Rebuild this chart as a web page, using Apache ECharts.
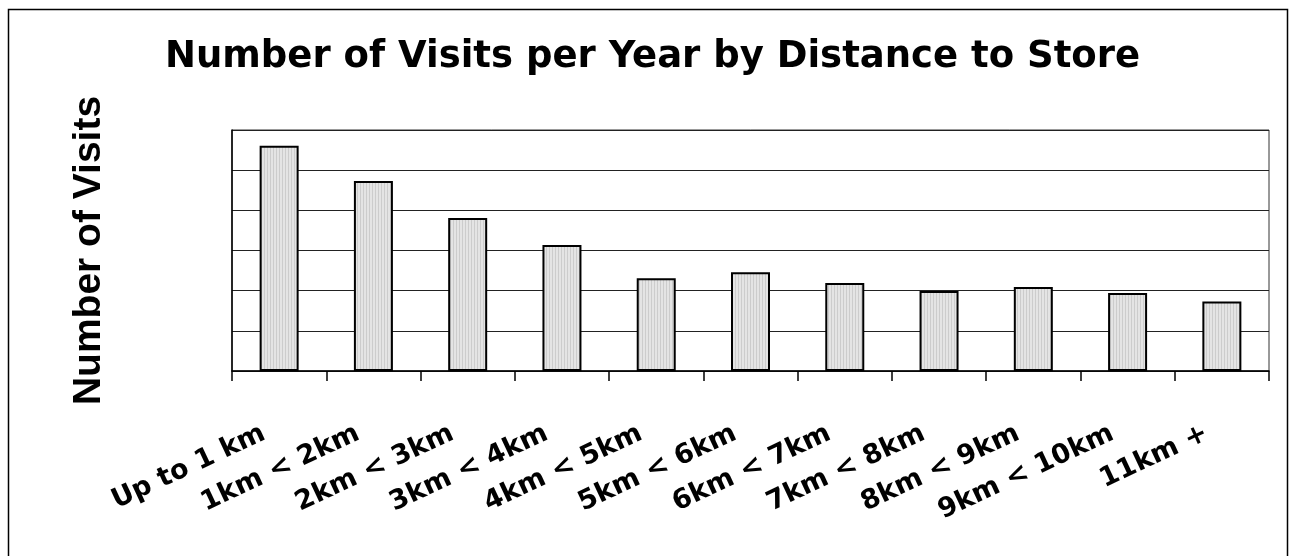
<!DOCTYPE html>
<html>
<head>
<meta charset="utf-8">
<style>
  html, body { margin: 0; padding: 0; background: #fff; }
  #chart { width: 1293px; height: 556px; }
</style>
<script src="https://cdn.jsdelivr.net/npm/echarts@6/dist/echarts.min.js"></script>
</head>
<body>
<div id="chart"></div>
<script>
const distanceBands = [
  "Up to 1 km", "1km < 2km", "2km < 3km", "3km < 4km", "4km < 5km",
  "5km < 6km", "6km < 7km", "7km < 8km", "8km < 9km", "9km < 10km", "11km +",
];
const visits = [5.61, 4.73, 3.81, 3.14, 2.31, 2.46, 2.19, 1.99, 2.09, 1.94, 1.73];

// thin vertical stripes like the old office fill
function stripeFill() {
  const c = document.createElement("canvas");
  c.width = 3;
  c.height = 8;
  const ctx = c.getContext("2d");
  ctx.fillStyle = "#e4e4e4";
  ctx.fillRect(0, 0, 3, 8);
  ctx.fillStyle = "#cccccc";
  ctx.fillRect(0, 0, 1, 8);
  return { image: c, repeat: "repeat" };
}

const chart = echarts.init(document.getElementById("chart"), null, { renderer: "canvas" });

chart.setOption({
  animation: false,
  backgroundColor: "#fff",
  title: {
    text: "Number of Visits per Year by Distance to Store",
    left: 160,
    top: 34,
    textStyle: { fontFamily: "DejaVu Sans", fontWeight: "bold", fontSize: 37, color: "#000" },
  },
  graphic: [
    {
      type: "rect",
      shape: { x: 8.5, y: 9.5, width: 1279, height: 560 },
      style: { fill: null, stroke: "#000", lineWidth: 1.5 },
      silent: true,
    },
  ],
  grid: {
    left: 232, right: 24, top: 130, bottom: 185,
    show: true, borderColor: "#333", borderWidth: 1, backgroundColor: "transparent",
  },
  xAxis: {
    type: "category",
    data: distanceBands,
    axisLine: { lineStyle: { color: "#000", width: 1.5 } },
    axisTick: { show: true, length: 10, lineStyle: { color: "#000", width: 1.5 } },
    axisLabel: {
      interval: 0,
      rotate: 25,
      margin: 54,
      padding: [0, 17, 0, 0],
      color: "#000",
      fontFamily: "DejaVu Sans",
      fontWeight: "bold",
      fontSize: 27,
    },
  },
  yAxis: {
    type: "value",
    min: 0,
    max: 6,
    interval: 1,
    name: "Number of Visits",
    nameLocation: "middle",
    nameGap: 123,
    nameTextStyle: { fontFamily: "Liberation Sans", fontWeight: "bold", fontSize: 39, color: "#000" },
    axisLine: { show: true, lineStyle: { color: "#000", width: 1.5 } },
    axisTick: { show: false },
    axisLabel: { show: false },
    splitLine: { lineStyle: { color: "#222", width: 1.2 } },
  },
  series: [
    {
      type: "bar",
      data: visits,
      barWidth: 39,
      itemStyle: { color: stripeFill(), borderColor: "#000", borderWidth: 2 },
    },
  ],
});
</script>
</body>
</html>
